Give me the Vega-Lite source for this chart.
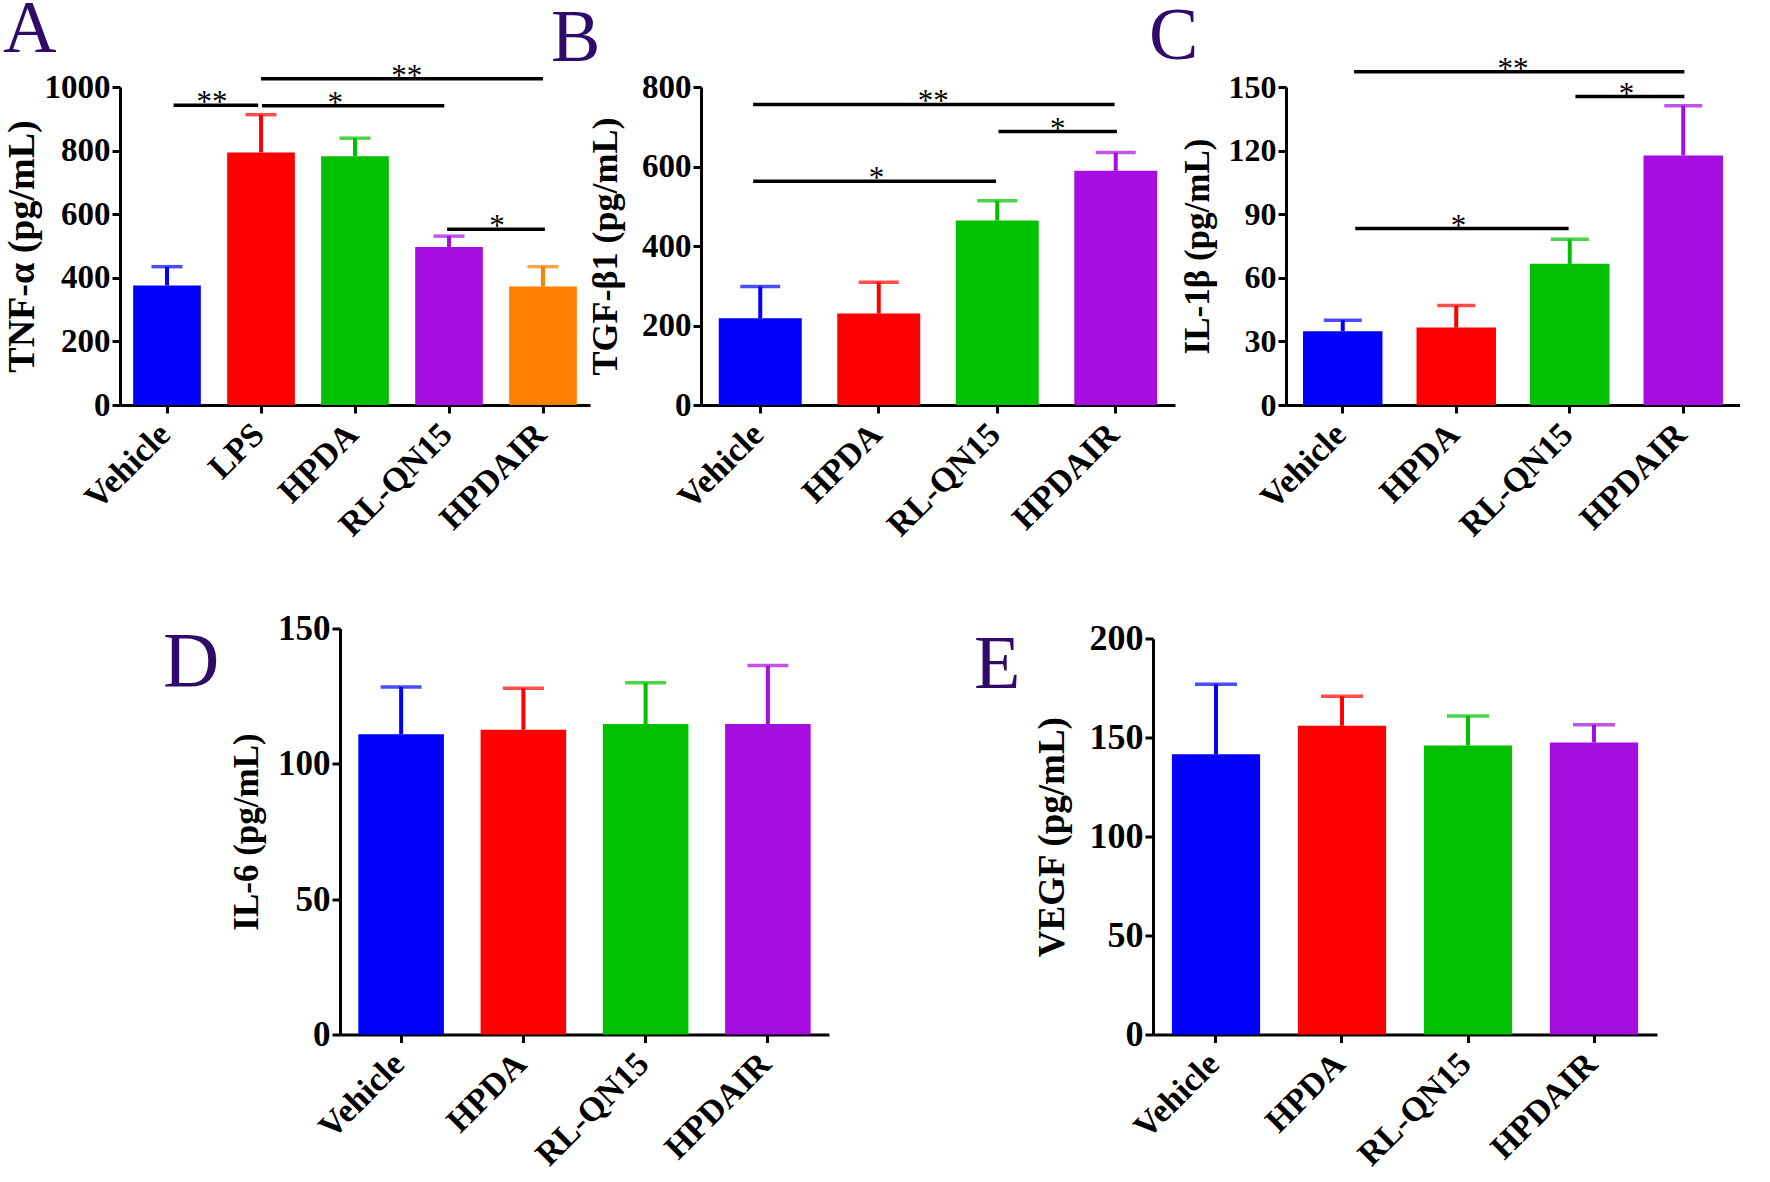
{
  "$schema": "https://vega.github.io/schema/vega-lite/v6.json",
  "background": "white",
  "padding": {"left": 2, "top": -8, "right": 0, "bottom": 0},
  "datasets": {
    "A": [
      {"group": "Vehicle", "mean": 376, "upper": 435},
      {"group": "LPS", "mean": 794, "upper": 913},
      {"group": "HPDA", "mean": 782, "upper": 839},
      {"group": "RL-QN15", "mean": 497, "upper": 531},
      {"group": "HPDAIR", "mean": 373, "upper": 435}
    ],
    "B": [
      {"group": "Vehicle", "mean": 218, "upper": 298},
      {"group": "HPDA", "mean": 230, "upper": 309},
      {"group": "RL-QN15", "mean": 464, "upper": 514},
      {"group": "HPDAIR", "mean": 589, "upper": 635}
    ],
    "C": [
      {"group": "Vehicle", "mean": 34.8, "upper": 40.0},
      {"group": "HPDA", "mean": 36.5, "upper": 46.9},
      {"group": "RL-QN15", "mean": 66.6, "upper": 78.2},
      {"group": "HPDAIR", "mean": 117.7, "upper": 141.2}
    ],
    "D": [
      {"group": "Vehicle", "mean": 110.9, "upper": 128.4},
      {"group": "HPDA", "mean": 112.6, "upper": 127.9},
      {"group": "RL-QN15", "mean": 114.7, "upper": 130.0},
      {"group": "HPDAIR", "mean": 114.7, "upper": 136.3}
    ],
    "E": [
      {"group": "Vehicle", "mean": 141.7, "upper": 177.0},
      {"group": "HPDA", "mean": 156.0, "upper": 170.9},
      {"group": "RL-QN15", "mean": 146.1, "upper": 161.0},
      {"group": "HPDAIR", "mean": 147.6, "upper": 156.6}
    ],
    "sigA": [
      {"x1": 0.07, "x2": 0.97, "xm": 0.48, "y": 943, "s": "**"},
      {"x1": 1.01, "x2": 2.95, "xm": 1.79, "y": 941, "s": "*"},
      {"x1": 1.0, "x2": 4.0, "xm": 2.55, "y": 1026, "s": "**"},
      {"x1": 2.98, "x2": 4.02, "xm": 3.51, "y": 553, "s": "*"}
    ],
    "sigB": [
      {"x1": -0.06, "x2": 2.99, "xm": 1.46, "y": 756, "s": "**"},
      {"x1": 2.01, "x2": 3.01, "xm": 2.51, "y": 688, "s": "*"},
      {"x1": -0.06, "x2": 1.99, "xm": 0.98, "y": 563, "s": "*"}
    ],
    "sigC": [
      {"x1": 0.10, "x2": 3.01, "xm": 1.50, "y": 157.2, "s": "**"},
      {"x1": 2.05, "x2": 3.01, "xm": 2.50, "y": 145.5, "s": "*"},
      {"x1": 0.11, "x2": 1.99, "xm": 1.02, "y": 83.2, "s": "*"}
    ]
  },
  "vconcat": [
    {
      "bounds": "flush",
      "spacing": 111,
      "resolve": {"scale": {"color": "independent"}},
      "hconcat": [
        {
          "width": 470, "height": 318,
          "title": {"text": "A", "offset": -7, "dx": 0},
          "layer": [
            {"data": {"name": "A"}, "layer": [
              {"mark": {"type": "bar"}, "encoding": {
                "x": {"field": "group", "type": "nominal", "sort": null, "scale": {"paddingInner": 0.28, "paddingOuter": 0.14}},
                "y": {"field": "mean", "type": "quantitative", "scale": {"domain": [0, 1000], "nice": false}, "axis": {"values": [0, 200, 400, 600, 800, 1000], "title": "TNF-α (pg/mL)", "labelFontSize": 33, "titleFontSize": 38, "titlePadding": 3}},
                "color": {"field": "group", "type": "nominal", "scale": {"domain": ["Vehicle", "LPS", "HPDA", "RL-QN15", "HPDAIR"], "range": ["#0000ff", "#ff0000", "#00c000", "#a60de0", "#ff8000"]}, "legend": null}}},
              {"mark": {"type": "rule", "strokeWidth": 4}, "encoding": {
                "x": {"field": "group", "type": "nominal", "sort": null},
                "y": {"field": "mean", "type": "quantitative"},
                "y2": {"field": "upper"},
                "color": {"field": "group", "type": "nominal", "legend": null}}},
              {"mark": {"type": "tick", "size": 31, "thickness": 3.5}, "encoding": {
                "x": {"field": "group", "type": "nominal", "sort": null},
                "y": {"field": "upper", "type": "quantitative"},
                "color": {"field": "group", "type": "nominal", "legend": null}}}
            ]},
            {"data": {"name": "sigA"}, "layer": [
              {"mark": {"type": "rule", "strokeWidth": 3.5, "color": "black"}, "encoding": {
                "x": {"field": "x1", "type": "quantitative", "scale": {"domain": [-0.5, 4.5], "nice": false, "zero": false}, "axis": null},
                "x2": {"field": "x2"},
                "y": {"field": "y", "type": "quantitative"}}},
              {"mark": {"type": "text", "fontSize": 31, "font": "Liberation Serif", "baseline": "alphabetic", "dy": 7, "color": "black"}, "encoding": {
                "x": {"field": "xm", "type": "quantitative", "axis": null},
                "y": {"field": "y", "type": "quantitative"},
                "text": {"field": "s"}}}
            ]}
          ],
          "resolve": {"scale": {"x": "independent"}}
        },
        {
          "width": 474, "height": 318,
          "title": {"text": "B", "offset": -5.5, "dx": -36.5},
          "layer": [
            {"data": {"name": "B"}, "layer": [
              {"mark": {"type": "bar"}, "encoding": {
                "x": {"field": "group", "type": "nominal", "sort": null, "scale": {"paddingInner": 0.3, "paddingOuter": 0.15}},
                "y": {"field": "mean", "type": "quantitative", "scale": {"domain": [0, 800], "nice": false}, "axis": {"values": [0, 200, 400, 600, 800], "title": "TGF-β1 (pg/mL)", "labelFontSize": 33, "titleFontSize": 36, "titlePadding": 17}},
                "color": {"field": "group", "type": "nominal", "scale": {"domain": ["Vehicle", "HPDA", "RL-QN15", "HPDAIR"], "range": ["#0000ff", "#ff0000", "#00c000", "#a60de0"]}, "legend": null}}},
              {"mark": {"type": "rule", "strokeWidth": 4}, "encoding": {
                "x": {"field": "group", "type": "nominal", "sort": null},
                "y": {"field": "mean", "type": "quantitative"},
                "y2": {"field": "upper"},
                "color": {"field": "group", "type": "nominal", "legend": null}}},
              {"mark": {"type": "tick", "size": 40, "thickness": 3.5}, "encoding": {
                "x": {"field": "group", "type": "nominal", "sort": null},
                "y": {"field": "upper", "type": "quantitative"},
                "color": {"field": "group", "type": "nominal", "legend": null}}}
            ]},
            {"data": {"name": "sigB"}, "layer": [
              {"mark": {"type": "rule", "strokeWidth": 3.5, "color": "black"}, "encoding": {
                "x": {"field": "x1", "type": "quantitative", "scale": {"domain": [-0.5, 3.5], "nice": false, "zero": false}, "axis": null},
                "x2": {"field": "x2"},
                "y": {"field": "y", "type": "quantitative"}}},
              {"mark": {"type": "text", "fontSize": 31, "font": "Liberation Serif", "baseline": "alphabetic", "dy": 7, "color": "black"}, "encoding": {
                "x": {"field": "xm", "type": "quantitative", "axis": null},
                "y": {"field": "y", "type": "quantitative"},
                "text": {"field": "s"}}}
            ]}
          ],
          "resolve": {"scale": {"x": "independent"}}
        },
        {
          "width": 454, "height": 318,
          "title": {"text": "C", "offset": -21.6, "dx": -31},
          "layer": [
            {"data": {"name": "C"}, "layer": [
              {"mark": {"type": "bar"}, "encoding": {
                "x": {"field": "group", "type": "nominal", "sort": null, "scale": {"paddingInner": 0.3, "paddingOuter": 0.15}},
                "y": {"field": "mean", "type": "quantitative", "scale": {"domain": [0, 150], "nice": false}, "axis": {"values": [0, 30, 60, 90, 120, 150], "title": "IL-1β (pg/mL)", "labelFontSize": 32, "titleFontSize": 35, "titlePadding": 13}},
                "color": {"field": "group", "type": "nominal", "scale": {"domain": ["Vehicle", "HPDA", "RL-QN15", "HPDAIR"], "range": ["#0000ff", "#ff0000", "#00c000", "#a60de0"]}, "legend": null}}},
              {"mark": {"type": "rule", "strokeWidth": 4}, "encoding": {
                "x": {"field": "group", "type": "nominal", "sort": null},
                "y": {"field": "mean", "type": "quantitative"},
                "y2": {"field": "upper"},
                "color": {"field": "group", "type": "nominal", "legend": null}}},
              {"mark": {"type": "tick", "size": 38, "thickness": 3.5}, "encoding": {
                "x": {"field": "group", "type": "nominal", "sort": null},
                "y": {"field": "upper", "type": "quantitative"},
                "color": {"field": "group", "type": "nominal", "legend": null}}}
            ]},
            {"data": {"name": "sigC"}, "layer": [
              {"mark": {"type": "rule", "strokeWidth": 3.5, "color": "black"}, "encoding": {
                "x": {"field": "x1", "type": "quantitative", "scale": {"domain": [-0.5, 3.5], "nice": false, "zero": false}, "axis": null},
                "x2": {"field": "x2"},
                "y": {"field": "y", "type": "quantitative"}}},
              {"mark": {"type": "text", "fontSize": 31, "font": "Liberation Serif", "baseline": "alphabetic", "dy": 7, "color": "black"}, "encoding": {
                "x": {"field": "xm", "type": "quantitative", "axis": null},
                "y": {"field": "y", "type": "quantitative"},
                "text": {"field": "s"}}}
            ]}
          ],
          "resolve": {"scale": {"x": "independent"}}
        }
      ]
    },
    {
      "bounds": "flush",
      "spacing": 0,
      "resolve": {"scale": {"color": "independent"}},
      "hconcat": [
        {"width": 219.5, "height": 1, "data": {"values": []}, "mark": {"type": "rule"}, "encoding": {}},
        {
          "width": 489, "height": 406,
          "title": {"text": "D", "offset": -90, "dx": -66.5, "fontSize": 78},
          "data": {"name": "D"},
          "layer": [
            {"mark": {"type": "bar"}, "encoding": {
              "x": {"field": "group", "type": "nominal", "sort": null, "scale": {"paddingInner": 0.3, "paddingOuter": 0.15}},
              "y": {"field": "mean", "type": "quantitative", "scale": {"domain": [0, 150], "nice": false}, "axis": {"values": [0, 50, 100, 150], "title": "IL-6 (pg/mL)", "labelFontSize": 35, "titleFontSize": 35, "titlePadding": 13}},
              "color": {"field": "group", "type": "nominal", "scale": {"domain": ["Vehicle", "HPDA", "RL-QN15", "HPDAIR"], "range": ["#0000ff", "#ff0000", "#00c000", "#a60de0"]}, "legend": null}}},
            {"mark": {"type": "rule", "strokeWidth": 4}, "encoding": {
              "x": {"field": "group", "type": "nominal", "sort": null},
              "y": {"field": "mean", "type": "quantitative"},
              "y2": {"field": "upper"},
              "color": {"field": "group", "type": "nominal", "legend": null}}},
            {"mark": {"type": "tick", "size": 41, "thickness": 3.5}, "encoding": {
              "x": {"field": "group", "type": "nominal", "sort": null},
              "y": {"field": "upper", "type": "quantitative"},
              "color": {"field": "group", "type": "nominal", "legend": null}}}
          ]
        },
        {"width": 323.2, "height": 1, "data": {"values": []}, "mark": {"type": "rule"}, "encoding": {}},
        {
          "width": 504, "height": 406,
          "title": {"text": "E", "offset": -83, "dx": -59, "fontSize": 76},
          "data": {"name": "E"},
          "layer": [
            {"mark": {"type": "bar"}, "encoding": {
              "x": {"field": "group", "type": "nominal", "sort": null, "scale": {"paddingInner": 0.3, "paddingOuter": 0.15}},
              "y": {"field": "mean", "type": "quantitative", "scale": {"domain": [0, 200], "nice": false, "range": [406, 10.3]}, "axis": {"values": [0, 50, 100, 150, 200], "title": "VEGF (pg/mL)", "labelFontSize": 36, "titleFontSize": 37, "titlePadding": 18}},
              "color": {"field": "group", "type": "nominal", "scale": {"domain": ["Vehicle", "HPDA", "RL-QN15", "HPDAIR"], "range": ["#0000ff", "#ff0000", "#00c000", "#a60de0"]}, "legend": null}}},
            {"mark": {"type": "rule", "strokeWidth": 4}, "encoding": {
              "x": {"field": "group", "type": "nominal", "sort": null},
              "y": {"field": "mean", "type": "quantitative"},
              "y2": {"field": "upper"},
              "color": {"field": "group", "type": "nominal", "legend": null}}},
            {"mark": {"type": "tick", "size": 42, "thickness": 3.5}, "encoding": {
              "x": {"field": "group", "type": "nominal", "sort": null},
              "y": {"field": "upper", "type": "quantitative"},
              "color": {"field": "group", "type": "nominal", "legend": null}}}
          ]
        }
      ]
    }
  ],
  "spacing": 68.5,
  "resolve": {"scale": {"color": "independent"}},
  "config": {
    "view": {"stroke": null},
    "font": "Liberation Serif",
    "axis": {
      "domainColor": "black", "domainWidth": 3, "tickColor": "black", "tickWidth": 3, "tickSize": 8,
      "labelFont": "Liberation Serif", "labelFontWeight": "bold", "labelFontSize": 34, "labelColor": "black",
      "titleFont": "Liberation Serif", "titleFontWeight": "bold", "titleFontSize": 38, "titleColor": "black",
      "grid": false, "labelPadding": 2, "titlePadding": 0
    },
    "axisY": {"format": "d"},
    "axisX": {"labelAngle": -45, "labelPadding": 4, "labelOffset": -14, "labelFontSize": 34, "title": null, "labelOverlap": false},
    "title": {"font": "Liberation Serif", "fontSize": 74, "fontWeight": "normal", "color": "#2e0b6b", "anchor": "start", "frame": "bounds", "baseline": "alphabetic"}
  }
}
